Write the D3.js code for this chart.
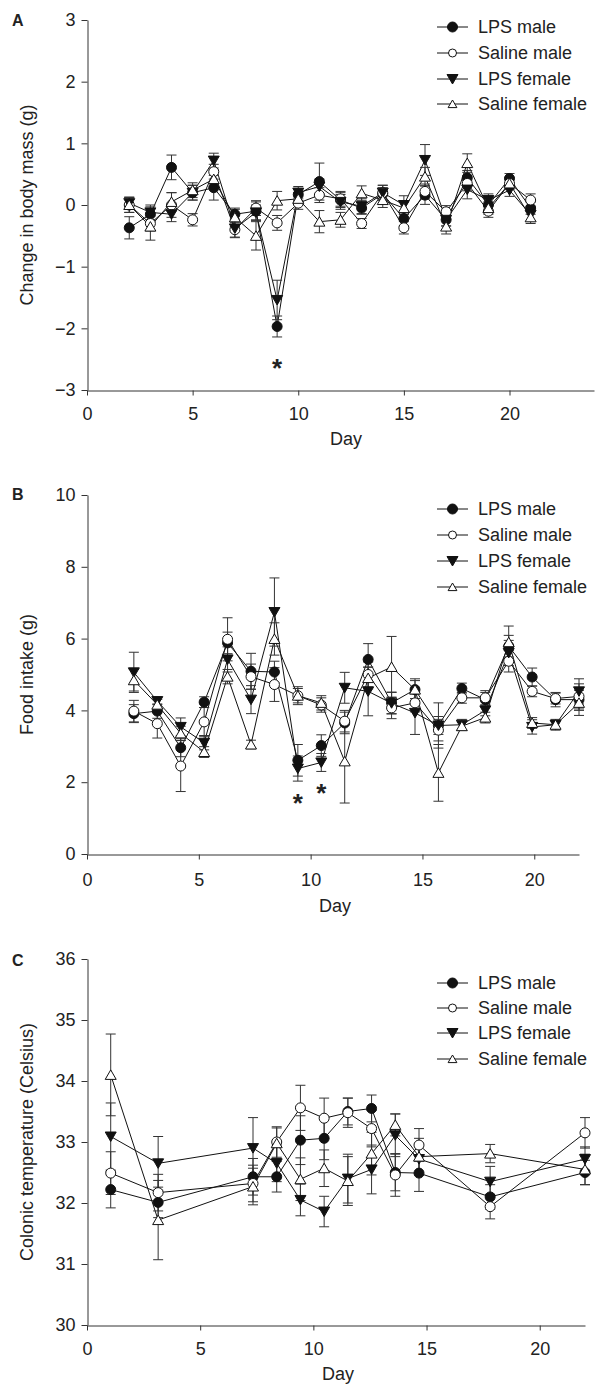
<!DOCTYPE html>
<html>
<head>
<meta charset="utf-8">
<script src="https://cdn.jsdelivr.net/npm/d3@7"></script>
<style>
body { margin: 0; background: #fff; }
svg text { font-family: "Liberation Sans", Arial, sans-serif; fill: #222; }
</style>
</head>
<body>
<svg id="chart" width="605" height="1390"></svg>
<script>
// legend order
var groups = ['LPS male', 'Saline male', 'LPS female', 'Saline female'];

// A - change in body mass (g)
var massDays = [2, 3, 4, 5, 6, 7, 8, 9, 10, 11, 12, 13, 14, 15, 16, 17, 18, 19, 20, 21];
var massLpsMale = [-0.37, -0.15, 0.61, 0.2, 0.28, -0.15, -0.1, -1.97, 0.17, 0.38, 0.08, -0.05, 0.18, -0.22, 0.16, -0.24, 0.44, 0.0, 0.43, -0.05];
var massLpsMaleSem = [0.18, 0.12, 0.2, 0.12, 0.2, 0.08, 0.15, 0.17, 0.1, 0.3, 0.12, 0.1, 0.1, 0.12, 0.15, 0.1, 0.12, 0.12, 0.08, 0.1];
var massSalMale = [0.0, -0.3, 0.0, -0.24, 0.54, -0.4, -0.05, -0.29, 0.03, 0.16, 0.1, -0.3, 0.2, -0.37, 0.22, -0.11, 0.35, -0.1, 0.35, 0.08];
var massSalMaleSem = [0.12, 0.12, 0.2, 0.1, 0.12, 0.12, 0.12, 0.12, 0.1, 0.12, 0.12, 0.08, 0.12, 0.1, 0.12, 0.1, 0.12, 0.1, 0.08, 0.1];
var massLpsFemale = [0.03, -0.12, -0.15, 0.2, 0.72, -0.38, -0.12, -1.54, 0.2, 0.3, 0.05, -0.02, 0.2, 0.0, 0.73, -0.24, 0.25, 0.08, 0.24, -0.16];
var massLpsFemaleSem = [0.1, 0.12, 0.12, 0.12, 0.12, 0.15, 0.12, 0.32, 0.1, 0.12, 0.12, 0.12, 0.12, 0.15, 0.25, 0.1, 0.15, 0.1, 0.1, 0.1];
var massSalFemale = [0.0, -0.35, 0.05, 0.24, 0.42, -0.2, -0.5, 0.07, 0.1, -0.27, -0.24, 0.19, 0.08, -0.05, 0.46, -0.35, 0.68, -0.05, 0.35, -0.2];
var massSalFemaleSem = [0.12, 0.22, 0.15, 0.12, 0.15, 0.15, 0.23, 0.15, 0.1, 0.18, 0.12, 0.12, 0.12, 0.1, 0.15, 0.12, 0.15, 0.1, 0.1, 0.1];
var massStarDays = [9];
var massStarVals = [-2.55];

// B - food intake (g)
var foodDays = [2, 3, 4, 5, 6, 7, 8, 9, 10, 11, 12, 13, 14, 15, 16, 17, 18, 19, 20, 21];
var foodLpsMale = [3.91, 3.98, 2.96, 4.23, 5.88, 5.09, 5.07, 2.61, 3.02, 3.65, 5.42, 4.21, 4.58, 3.58, 4.61, 4.3, 5.79, 4.93, 4.3, 4.3];
var foodLpsMaleSem = [0.25, 0.2, 0.25, 0.15, 0.3, 0.5, 0.3, 0.44, 0.3, 0.3, 0.44, 0.3, 0.25, 0.63, 0.15, 0.2, 0.3, 0.25, 0.2, 0.3];
var foodSalMale = [3.98, 3.63, 2.45, 3.68, 5.98, 4.94, 4.72, 4.41, 4.15, 3.7, 5.0, 4.07, 4.21, 3.45, 4.35, 4.35, 5.37, 4.53, 4.33, 4.39];
var foodSalMaleSem = [0.3, 0.4, 0.71, 0.4, 0.6, 0.35, 0.47, 0.2, 0.2, 0.3, 0.35, 0.3, 0.25, 0.3, 0.15, 0.2, 0.3, 0.15, 0.15, 0.35];
var foodLpsFemale = [5.06, 4.26, 3.54, 3.1, 5.42, 4.3, 6.74, 2.38, 2.55, 4.63, 4.53, 4.2, 3.93, 3.58, 3.6, 4.0, 5.6, 3.54, 3.6, 4.53];
var foodLpsFemaleSem = [0.56, 0.1, 0.25, 0.2, 0.35, 0.39, 0.95, 0.35, 0.25, 0.43, 0.68, 0.3, 0.6, 0.25, 0.15, 0.15, 0.35, 0.2, 0.15, 0.35];
var foodSalFemale = [4.84, 4.16, 3.36, 2.84, 4.94, 3.05, 5.99, 4.41, 4.21, 2.58, 4.9, 5.21, 4.58, 2.26, 3.56, 3.8, 5.9, 3.65, 3.6, 4.21];
var foodSalFemaleSem = [0.3, 0.15, 0.2, 0.15, 0.2, 0.12, 0.45, 0.25, 0.2, 1.16, 0.3, 0.85, 0.3, 0.79, 0.12, 0.15, 0.45, 0.15, 0.12, 0.35];
var foodStarDays = [9, 10];
var foodStarVals = [1.56, 1.84];

// C - colonic temperature (Celsius)
var tempDays = [1, 3, 7, 8, 9, 10, 11, 12, 13, 14, 17, 21];
var tempLpsMale = [32.22, 32.01, 32.43, 32.43, 33.03, 33.06, 33.5, 33.55, 32.5, 32.49, 32.1, 32.5];
var tempLpsMaleSem = [0.3, 0.25, 0.3, 0.25, 0.4, 0.35, 0.22, 0.22, 0.3, 0.3, 0.2, 0.2];
var tempSalMale = [32.49, 32.17, 32.32, 33.0, 33.56, 33.39, 33.48, 33.22, 32.46, 32.95, 31.94, 33.15];
var tempSalMaleSem = [0.35, 0.3, 0.3, 0.25, 0.37, 0.33, 0.24, 0.3, 0.35, 0.27, 0.2, 0.25];
var tempLpsFemale = [33.09, 32.65, 32.9, 32.65, 32.05, 31.86, 32.4, 32.55, 33.11, 32.72, 32.35, 32.72];
var tempLpsFemaleSem = [0.55, 0.44, 0.5, 0.3, 0.26, 0.25, 0.4, 0.4, 0.35, 0.25, 0.25, 0.2];
var tempSalFemale = [34.1, 31.72, 32.27, 32.98, 32.39, 32.57, 32.36, 32.81, 33.28, 32.76, 32.81, 32.55];
var tempSalFemaleSem = [0.67, 0.65, 0.3, 0.25, 0.35, 0.3, 0.4, 0.35, 0.18, 0.3, 0.15, 0.25];

var svg = d3.select('#chart');

// symbol paths, centred on 0,0
function symbolPath(kind, s) {
    s = s || 1;
    if (kind == 'circle') {
        var r = 5 * s;
        return 'M' + (-r) + ',0A' + r + ',' + r + ' 0 1,0 ' + r + ',0A' + r + ',' + r + ' 0 1,0 ' + (-r) + ',0Z';
    } else if (kind == 'down') {
        return 'M' + (-5.5 * s) + ',' + (-4.5 * s) + 'L' + (5.5 * s) + ',' + (-4.5 * s) + 'L0,' + (5 * s) + 'Z';
    } else {
        return 'M' + (-5.5 * s) + ',' + (4.5 * s) + 'L' + (5.5 * s) + ',' + (4.5 * s) + 'L0,' + (-5 * s) + 'Z';
    }
}

var styles = [
    { kind: 'circle', fill: '#111' },
    { kind: 'circle', fill: '#fff' },
    { kind: 'down', fill: '#111' },
    { kind: 'up', fill: '#fff' }
];

function drawPanel(p) {
    var g = svg.append('g');
    var xTick = d3.scaleLinear().domain(p.tickDomain).range(p.xRange);
    var x = d3.scaleLinear().domain(p.dataDomain).range(p.xRange);
    var y = d3.scaleLinear().domain(p.yDomain).range(p.yRange);

    // axes
    g.append('g')
        .attr('transform', 'translate(0,' + (p.yRange[0] + 0.5) + ')')
        .call(d3.axisBottom(xTick).tickValues([0, 5, 10, 15, 20]).tickSize(5).tickSizeOuter(0).tickPadding(p.xPad))
        .call(function (a) {
            a.select('.domain').attr('stroke', '#333');
            a.selectAll('.tick line').attr('stroke', '#333');
            a.selectAll('text').attr('font-size', 18).attr('fill', '#222');
        });
    g.append('g')
        .attr('transform', 'translate(' + (p.xRange[0] + 0.5) + ',0)')
        .call(d3.axisLeft(y).tickValues(p.yTicks).tickFormat(d3.format('d')).tickSize(6).tickSizeOuter(0).tickPadding(6))
        .call(function (a) {
            a.select('.domain').attr('stroke', '#333');
            a.selectAll('.tick line').attr('stroke', '#333');
            a.selectAll('text').attr('font-size', 18).attr('fill', '#222');
        });

    // titles
    g.append('text')
        .attr('x', p.dayX)
        .attr('y', p.dayY)
        .attr('text-anchor', 'middle')
        .attr('font-size', 18)
        .text('Day');
    g.append('text')
        .attr('transform', 'translate(33,' + ((p.yRange[0] + p.yRange[1]) / 2) + ') rotate(-90)')
        .attr('text-anchor', 'middle')
        .attr('font-size', 18)
        .text(p.yTitle);
    g.append('text')
        .attr('x', 12)
        .attr('y', p.letterY)
        .attr('font-size', 16)
        .attr('font-weight', 'bold')
        .text(p.letter);

    var series = p.series.map(function (s, i) {
        return {
            style: styles[i],
            points: p.days.map(function (d, j) { return { day: d, v: s.values[j], sem: s.sems[j] }; })
        };
    });

    var line = d3.line()
        .x(function (d) { return x(d.day); })
        .y(function (d) { return y(d.v); });

    // lines
    g.append('g').selectAll('path')
        .data(series)
        .enter().append('path')
        .attr('d', function (s) { return line(s.points); })
        .attr('fill', 'none')
        .attr('stroke', '#111')
        .attr('stroke-width', 1);

    // error bars
    series.forEach(function (s) {
        var eb = g.append('g').attr('stroke', '#333').attr('stroke-width', 1);
        var bars = eb.selectAll('g').data(s.points).enter().append('g');
        bars.append('line')
            .attr('x1', function (d) { return x(d.day); })
            .attr('x2', function (d) { return x(d.day); })
            .attr('y1', function (d) { return y(d.v - d.sem); })
            .attr('y2', function (d) { return y(d.v + d.sem); });
        bars.append('line')
            .attr('x1', function (d) { return x(d.day) - 5; })
            .attr('x2', function (d) { return x(d.day) + 5; })
            .attr('y1', function (d) { return y(d.v + d.sem); })
            .attr('y2', function (d) { return y(d.v + d.sem); });
        bars.append('line')
            .attr('x1', function (d) { return x(d.day) - 5; })
            .attr('x2', function (d) { return x(d.day) + 5; })
            .attr('y1', function (d) { return y(d.v - d.sem); })
            .attr('y2', function (d) { return y(d.v - d.sem); });
    });

    // symbols
    series.forEach(function (s) {
        g.append('g').selectAll('path')
            .data(s.points)
            .enter().append('path')
            .attr('d', symbolPath(s.style.kind))
            .attr('transform', function (d) { return 'translate(' + x(d.day) + ',' + y(d.v) + ')'; })
            .attr('fill', s.style.fill)
            .attr('stroke', '#111')
            .attr('stroke-width', 1);
    });

    // significance stars
    g.append('g').selectAll('text')
        .data(p.starDays)
        .enter().append('text')
        .attr('x', function (d) { return x(d); })
        .attr('y', function (d, i) { return y(p.starVals[i]); })
        .attr('dy', '0.55em')
        .attr('text-anchor', 'middle')
        .attr('font-size', 26)
        .attr('font-weight', 'bold')
        .text('*');

    // legend
    var leg = g.append('g').selectAll('g')
        .data(groups)
        .enter().append('g')
        .attr('transform', function (d, i) { return 'translate(0,' + p.legendY[i] + ')'; });
    leg.append('line')
        .attr('x1', 437).attr('x2', 468)
        .attr('stroke', '#111');
    leg.append('path')
        .attr('d', function (d, i) { return symbolPath(styles[i].kind, styles[i].fill == '#fff' ? 0.8 : 1); })
        .attr('transform', 'translate(452.5,0)')
        .attr('fill', function (d, i) { return styles[i].fill; })
        .attr('stroke', '#111');
    leg.append('text')
        .attr('x', 478)
        .attr('dy', '0.35em')
        .attr('font-size', 18)
        .text(function (d) { return d; });
}

drawPanel({
    letter: 'A', letterY: 26,
    xRange: [87, 594], tickDomain: [0, 24], dataDomain: [0, 24],
    yDomain: [-3, 3], yRange: [390, 20], yTicks: [-3, -2, -1, 0, 1, 2, 3],
    yTitle: 'Change in body mass (g)', xPad: 12, dayX: 346, dayY: 445,
    days: massDays,
    series: [
        { values: massLpsMale, sems: massLpsMaleSem },
        { values: massSalMale, sems: massSalMaleSem },
        { values: massLpsFemale, sems: massLpsFemaleSem },
        { values: massSalFemale, sems: massSalFemaleSem }
    ],
    starDays: massStarDays, starVals: massStarVals,
    legendY: [27, 53, 79, 104]
});

drawPanel({
    letter: 'B', letterY: 500,
    xRange: [87, 579], tickDomain: [0, 22], dataDomain: [0, 21],
    yDomain: [0, 10], yRange: [854, 495], yTicks: [0, 2, 4, 6, 8, 10],
    yTitle: 'Food intake (g)', xPad: 14, dayX: 335, dayY: 912,
    days: foodDays,
    series: [
        { values: foodLpsMale, sems: foodLpsMaleSem },
        { values: foodSalMale, sems: foodSalMaleSem },
        { values: foodLpsFemale, sems: foodLpsFemaleSem },
        { values: foodSalFemale, sems: foodSalFemaleSem }
    ],
    starDays: foodStarDays, starVals: foodStarVals,
    legendY: [509, 535, 561, 587]
});

drawPanel({
    letter: 'C', letterY: 966,
    xRange: [87, 585], tickDomain: [0, 22], dataDomain: [0, 21],
    yDomain: [30, 36], yRange: [1325, 959], yTicks: [30, 31, 32, 33, 34, 35, 36],
    yTitle: 'Colonic temperature (Celsius)', xPad: 12, dayX: 338, dayY: 1380,
    days: tempDays,
    series: [
        { values: tempLpsMale, sems: tempLpsMaleSem },
        { values: tempSalMale, sems: tempSalMaleSem },
        { values: tempLpsFemale, sems: tempLpsFemaleSem },
        { values: tempSalFemale, sems: tempSalFemaleSem }
    ],
    starDays: [], starVals: [],
    legendY: [983, 1008, 1033, 1059]
});
</script>
</body>
</html>
